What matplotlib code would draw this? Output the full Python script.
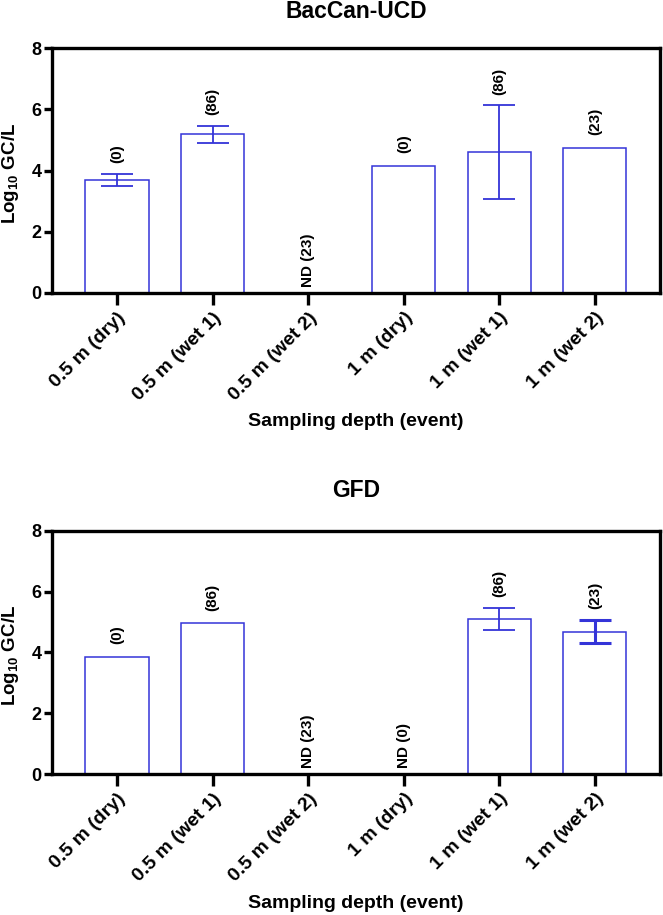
import numpy as np
import matplotlib
matplotlib.use("Agg")
import matplotlib.pyplot as plt

plt.rcParams['font.family'] = ['Liberation Sans', 'DejaVu Sans']
plt.rcParams['font.weight'] = 'bold'
plt.rcParams['mathtext.fontset'] = 'custom'
plt.rcParams['mathtext.bf'] = 'Liberation Sans:bold'
plt.rcParams['mathtext.rm'] = 'Liberation Sans:bold'

categories = ['0.5 m (dry)', '0.5 m (wet 1)', '0.5 m (wet 2)',
              '1 m (dry)', '1 m (wet 1)', '1 m (wet 2)']

# BacCan-UCD (nan = not detected)
bac_mean = [3.69, 5.18, np.nan, 4.14, 4.59, 4.74]
bac_lo = [3.50, 4.89, np.nan, np.nan, 3.07, np.nan]
bac_hi = [3.90, 5.46, np.nan, np.nan, 6.13, np.nan]
bac_notes = ['(0)', '(86)', 'ND (23)', '(0)', '(86)', '(23)']

# GFD
gfd_mean = [3.84, 4.95, np.nan, np.nan, 5.09, 4.67]
gfd_lo = [np.nan, np.nan, np.nan, np.nan, 4.74, 4.30]
gfd_hi = [np.nan, np.nan, np.nan, np.nan, 5.46, 5.07]
gfd_notes = ['(0)', '(86)', 'ND (23)', 'ND (0)', '(86)', '(23)']

BLUE = '#3434d8'


def panel(ax, mean, lo, hi, notes, thick_err=()):
    x = np.arange(len(categories))
    mean = np.array(mean, dtype=float)
    lo = np.array(lo, dtype=float)
    hi = np.array(hi, dtype=float)
    h = np.nan_to_num(mean)
    ax.bar(x, h, width=0.66, facecolor='white', edgecolor=BLUE, linewidth=1.1)
    for i in range(len(x)):
        if not np.isnan(lo[i]):
            lw = 2.2 if i in thick_err else 1.3
            ax.errorbar(x[i], mean[i], yerr=[[mean[i] - lo[i]], [hi[i] - mean[i]]],
                        fmt='none', ecolor=BLUE, elinewidth=lw, capsize=11.5,
                        capthick=lw)
        if np.isnan(mean[i]):
            top = 0.2
        elif not np.isnan(hi[i]):
            top = hi[i] + 0.35
        else:
            top = mean[i] + 0.42
        ax.text(x[i], top, notes[i], rotation=90, ha='center', va='bottom',
                fontsize=11, fontweight='bold')
    ax.set_xlim(-0.68, 5.68)
    ax.set_ylim(0, 8)
    ax.set_yticks([0, 2, 4, 6, 8])
    ax.set_xticks(x)
    ax.set_xticklabels(categories, rotation=45, ha='right',
                       rotation_mode='anchor', fontsize=14, fontweight='bold')
    for lab in ax.get_yticklabels():
        lab.set_fontsize(13)
        lab.set_fontweight('bold')
    for s in ax.spines.values():
        s.set_linewidth(2.4)
    ax.tick_params(axis='x', length=8.5, width=2.4, pad=3)
    ax.tick_params(axis='y', length=6, width=2.4, pad=1.5)
    hpx = ax.get_position().height * 915
    ax.set_ylabel(r'Log$_{\mathbf{10}}$ GC/L', fontsize=13.5, fontweight='bold')
    ax.yaxis.set_label_coords(-0.069, 0.486)
    ax.yaxis.label.set_va('center')
    ax.set_xlabel('Sampling depth (event)', fontsize=14, fontweight='bold')
    ax.xaxis.set_label_coords(0.5, -129 / hpx)
    ax.xaxis.label.set_va('center')


fig = plt.figure(figsize=(6.63, 9.15), dpi=100)
ax1 = fig.add_axes([0.0784, 0.6798, 0.917, 0.2677])
ax2 = fig.add_axes([0.0784, 0.154, 0.917, 0.266])
panel(ax1, bac_mean, bac_lo, bac_hi, bac_notes)
panel(ax2, gfd_mean, gfd_lo, gfd_hi, gfd_notes, thick_err=(5,))

fig.text(0.537, 1 - 11 / 915, 'BacCan-UCD', ha='center', va='center',
         fontsize=16.5, fontweight='bold')
fig.text(0.537, 1 - 491 / 915, 'GFD', ha='center', va='center',
         fontsize=16.5, fontweight='bold')

plt.savefig('out.png', dpi=100)
